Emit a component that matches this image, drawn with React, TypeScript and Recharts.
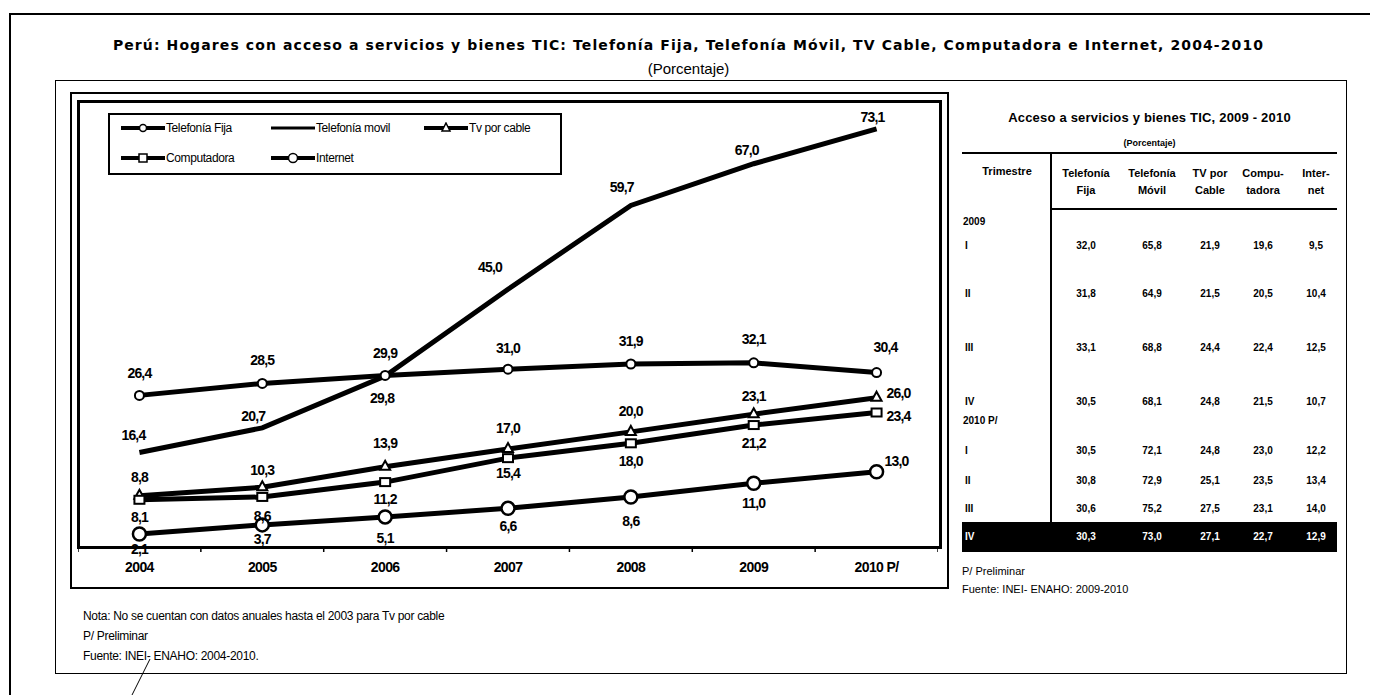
import React from "react";
import { LineChart, Line, XAxis, YAxis, LabelList } from "recharts";

// annual series 2004-2010
const YEARS = ["2004", "2005", "2006", "2007", "2008", "2009", "2010 P/"];
const FIJA = [26.4, 28.5, 29.9, 31.0, 31.9, 32.1, 30.4];
const MOVIL = [16.4, 20.7, 29.8, 45.0, 59.7, 67.0, 73.1];
const CABLE = [8.8, 10.3, 13.9, 17.0, 20.0, 23.1, 26.0];
const COMPU = [8.1, 8.6, 11.2, 15.4, 18.0, 21.2, 23.4];
const INTERNET = [2.1, 3.7, 5.1, 6.6, 8.6, 11.0, 13.0];

// quarterly table 2009-2010
const TABLE_COLS = [
  ["Telefonía", "Fija"],
  ["Telefonía", "Móvil"],
  ["TV por", "Cable"],
  ["Compu-", "tadora"],
  ["Inter-", "net"],
];
const ROWS_2009 = [
  { q: "I", v: [32.0, 65.8, 21.9, 19.6, 9.5] },
  { q: "II", v: [31.8, 64.9, 21.5, 20.5, 10.4] },
  { q: "III", v: [33.1, 68.8, 24.4, 22.4, 12.5] },
  { q: "IV", v: [30.5, 68.1, 24.8, 21.5, 10.7] },
];
const ROWS_2010 = [
  { q: "I", v: [30.5, 72.1, 24.8, 23.0, 12.2] },
  { q: "II", v: [30.8, 72.9, 25.1, 23.5, 13.4] },
  { q: "III", v: [30.6, 75.2, 27.5, 23.1, 14.0] },
  { q: "IV", v: [30.3, 73.0, 27.1, 22.7, 12.9] },
];

const data = YEARS.map((year, i) => ({
  year,
  fija: FIJA[i],
  movil: MOVIL[i],
  cable: CABLE[i],
  compu: COMPU[i],
  internet: INTERNET[i],
}));

const NARROW = '"Liberation Sans Narrow", "Liberation Sans", Arial, sans-serif';
const WIDE = '"DejaVu Sans", Verdana, sans-serif';

// label offsets relative to each point [dx, dy]
const OFF_FIJA = [[0, -22], [0, -23], [0, -22], [0, -21], [0, -23], [0, -24], [9, -26]];
const OFF_MOVIL = [[-6, -17], [-9, -12], [-3, 22], [-18, -22], [-9, -18], [-7, -14], [-4, -12]];
const OFF_CABLE = [[0, -19], [0, -17], [0, -24], [0, -21], [0, -21], [0, -18], [22, -5]];
const OFF_COMPU = [[0, 17], [0, 19], [0, 17], [0, 15], [0, 18], [0, 18], [22, 3]];
const OFF_NET = [[0, 15], [0, 14], [0, 21], [0, 18], [0, 24], [0, 20], [20, -11]];

const fmt = (v: number) => v.toFixed(1).replace(".", ",");

const makeLabel = (off: number[][]) => (p: any) => {
  const o = off[p.index] || [0, 0];
  return (
    <text
      x={p.x + o[0]}
      y={p.y + o[1] + 5}
      textAnchor="middle"
      fontFamily={NARROW}
      fontSize={14}
      fontWeight={700}
      letterSpacing={-0.8}
      fill="#000"
    >
      {fmt(p.value)}
    </text>
  );
};

const circleDot = (r: number, sw: number) => (p: any) => (
  <circle key={`c${r}-${p.index}`} cx={p.cx} cy={p.cy} r={r} fill="#fff" stroke="#000" strokeWidth={sw} />
);
const triDot = (p: any) => (
  <path
    key={`t-${p.index}`}
    d={`M${p.cx},${p.cy - 6} L${p.cx + 5},${p.cy + 3} L${p.cx - 5},${p.cy + 3} Z`}
    fill="#fff"
    stroke="#000"
    strokeWidth={2}
  />
);
const sqDot = (p: any) => (
  <rect key={`s-${p.index}`} x={p.cx - 5} y={p.cy - 4} width={10} height={8} fill="#fff" stroke="#000" strokeWidth={2} />
);

const PLOT_W = 860;
const BAND = PLOT_W / YEARS.length;

const XTick = (p: any) => {
  const last = p.index === YEARS.length - 1;
  return (
    <g>
      <line x1={p.x - BAND / 2} x2={p.x - BAND / 2} y1={445} y2={451} stroke="#000" strokeWidth={1.5} />
      {last && <line x1={p.x + BAND / 2} x2={p.x + BAND / 2} y1={445} y2={451} stroke="#000" strokeWidth={1.5} />}
      <text x={p.x} y={471} textAnchor="middle" fontFamily={NARROW} fontSize={14} fontWeight={700} letterSpacing={-0.6} fill="#000">
        {p.payload.value}
      </text>
    </g>
  );
};

const abs = (s: React.CSSProperties): React.CSSProperties => ({ position: "absolute", ...s });

const LegendSym = ({ kind }: { kind: string }) => (
  <svg width={46} height={12} style={{ verticalAlign: "middle" }}>
    <line x1={1} x2={45} y1={6} y2={6} stroke="#000" strokeWidth={kind === "movil" ? 3 : 4} />
    {kind === "fija" && <circle cx={23} cy={6} r={3.5} fill="#fff" stroke="#000" strokeWidth={1.5} />}
    {kind === "net" && <circle cx={23} cy={6} r={4.5} fill="#fff" stroke="#000" strokeWidth={1.5} />}
    {kind === "cable" && <path d="M23,1 L27,9 L19,9 Z" fill="#fff" stroke="#000" strokeWidth={1.5} />}
    {kind === "compu" && <rect x={19} y={2} width={8} height={8} fill="#fff" stroke="#000" strokeWidth={1.5} />}
  </svg>
);

const LegendItem = ({ kind, text, left, top }: { kind: string; text: string; left: number; top: number }) => (
  <div style={abs({ left, top, display: "flex", alignItems: "center", fontFamily: NARROW, fontSize: 12, letterSpacing: -0.4, whiteSpace: "nowrap" })}>
    <LegendSym kind={kind} />
    <span>{text}</span>
  </div>
);

const COL_X = [1086, 1152, 1210, 1263, 1316];

const TableRow = ({ q, v, top, inv }: { q: string; v: number[]; top: number; inv?: boolean }) => (
  <>
    <div style={abs({ left: 965, top: top - 7, fontFamily: NARROW, fontSize: 10, fontWeight: 700, color: inv ? "#fff" : "#000" })}>{q}</div>
    {v.map((x, i) => (
      <div
        key={i}
        style={abs({ left: COL_X[i] - 20, width: 40, top: top - 7, textAlign: "center", fontFamily: NARROW, fontSize: 10, fontWeight: 700, color: inv ? "#fff" : "#000" })}
      >
        {fmt(x)}
      </div>
    ))}
  </>
);

export default function App() {
  return (
    <div style={abs({ left: 0, top: 0, width: 1377, height: 695, background: "#fff", overflow: "hidden", color: "#000" })}>
      {/* page frame */}
      <div style={abs({ left: 10, top: 13, width: 1360, height: 0, borderTop: "2px solid #000" })} />
      <div style={abs({ left: 9, top: 13, width: 0, height: 682, borderLeft: "2px solid #000" })} />
      <div style={abs({ left: 55, top: 80, width: 1290, height: 592, border: "1.5px solid #000" })} />

      {/* titles */}
      <div style={abs({ left: 0, top: 37, width: 1377, textAlign: "center", fontFamily: WIDE, fontSize: 14, fontWeight: 700, letterSpacing: 1.1 })}>
        Perú: Hogares con acceso a servicios y bienes TIC: Telefonía Fija, Telefonía Móvil, TV Cable, Computadora e Internet, 2004-2010
      </div>
      <div style={abs({ left: 0, top: 60, width: 1377, textAlign: "center", fontFamily: NARROW, fontSize: 15 })}>(Porcentaje)</div>

      {/* chart box */}
      <div style={abs({ left: 70, top: 92, width: 875, height: 493, border: "2px solid #000" })} />
      <div style={abs({ left: 77, top: 100, width: 859, height: 443, border: "3px solid #000" })} />

      <div style={abs({ left: 78, top: 101 })}>
        <LineChart width={PLOT_W} height={480} data={data} margin={{ top: 0, right: 0, bottom: 0, left: 0 }}>
          <XAxis dataKey="year" scale="band" axisLine={false} tickLine={false} tick={<XTick />} height={35} interval={0} />
          <YAxis hide domain={[0, 78]} />
          <Line dataKey="movil" stroke="#000" strokeWidth={5} dot={false} isAnimationActive={false}>
            <LabelList dataKey="movil" content={makeLabel(OFF_MOVIL)} />
          </Line>
          <Line dataKey="fija" stroke="#000" strokeWidth={5} dot={circleDot(4.5, 2)} isAnimationActive={false}>
            <LabelList dataKey="fija" content={makeLabel(OFF_FIJA)} />
          </Line>
          <Line dataKey="cable" stroke="#000" strokeWidth={5} dot={triDot} isAnimationActive={false}>
            <LabelList dataKey="cable" content={makeLabel(OFF_CABLE)} />
          </Line>
          <Line dataKey="compu" stroke="#000" strokeWidth={5} dot={sqDot} isAnimationActive={false}>
            <LabelList dataKey="compu" content={makeLabel(OFF_COMPU)} />
          </Line>
          <Line dataKey="internet" stroke="#000" strokeWidth={5} dot={circleDot(6.5, 2.5)} isAnimationActive={false}>
            <LabelList dataKey="internet" content={makeLabel(OFF_NET)} />
          </Line>
        </LineChart>
      </div>

      {/* legend */}
      <div style={abs({ left: 108, top: 113, width: 450, height: 58, border: "2px solid #000", background: "#fff" })}>
        <LegendItem kind="fija" text="Telefonía Fija" left={10} top={6} />
        <LegendItem kind="movil" text="Telefonía movil" left={160} top={6} />
        <LegendItem kind="cable" text="Tv por cable" left={313} top={6} />
        <LegendItem kind="compu" text="Computadora" left={10} top={36} />
        <LegendItem kind="net" text="Internet" left={160} top={36} />
      </div>

      {/* notes */}
      <div style={abs({ left: 83, top: 606, fontFamily: NARROW, fontSize: 12, letterSpacing: -0.3, lineHeight: "20px" })}>
        <div>Nota: No se cuentan con datos anuales hasta el 2003 para Tv por cable</div>
        <div>P/ Preliminar</div>
        <div>Fuente: INEI- ENAHO: 2004-2010.</div>
      </div>
      <svg style={abs({ left: 120, top: 655 })} width={40} height={40}>
        <line x1={30} y1={4} x2={12} y2={40} stroke="#000" strokeWidth={1} />
      </svg>

      {/* quarterly table */}
      <div style={abs({ left: 962, top: 110, width: 375, textAlign: "center", fontFamily: NARROW, fontSize: 13, fontWeight: 700, letterSpacing: 0.2 })}>
        Acceso a servicios y bienes TIC, 2009 - 2010
      </div>
      <div style={abs({ left: 962, top: 138, width: 375, textAlign: "center", fontFamily: NARROW, fontSize: 9, fontWeight: 700 })}>
        (Porcentaje)
      </div>
      <div style={abs({ left: 962, top: 152, width: 375, borderTop: "2px solid #000" })} />
      <div style={abs({ left: 1051, top: 208, width: 286, borderTop: "2px solid #000" })} />
      <div style={abs({ left: 1050, top: 152, height: 400, borderLeft: "2px solid #000" })} />
      <div style={abs({ left: 962, top: 165, width: 90, textAlign: "center", fontFamily: NARROW, fontSize: 11, fontWeight: 700 })}>Trimestre</div>
      {TABLE_COLS.map((c, i) => (
        <div
          key={i}
          style={abs({ left: COL_X[i] - 28, width: 56, top: 165, textAlign: "center", fontFamily: NARROW, fontSize: 11, fontWeight: 700, lineHeight: "17px" })}
        >
          {c[0]}
          <br />
          {c[1]}
        </div>
      ))}
      <div style={abs({ left: 963, top: 216, fontFamily: NARROW, fontSize: 10, fontWeight: 700 })}>2009</div>
      {ROWS_2009.map((r, i) => (
        <TableRow key={`a${i}`} q={r.q} v={r.v} top={[247, 295, 349, 403][i]} />
      ))}
      <div style={abs({ left: 963, top: 415, fontFamily: NARROW, fontSize: 10, fontWeight: 700 })}>2010 P/</div>
      <div style={abs({ left: 962, top: 522, width: 375, height: 30, background: "#000" })} />
      {ROWS_2010.map((r, i) => (
        <TableRow key={`b${i}`} q={r.q} v={r.v} top={[452, 482, 510, 538][i]} inv={i === 3} />
      ))}
      <div style={abs({ left: 962, top: 562, fontFamily: NARROW, fontSize: 11, lineHeight: "18px" })}>
        <div>P/ Preliminar</div>
        <div>Fuente: INEI- ENAHO: 2009-2010</div>
      </div>
    </div>
  );
}
